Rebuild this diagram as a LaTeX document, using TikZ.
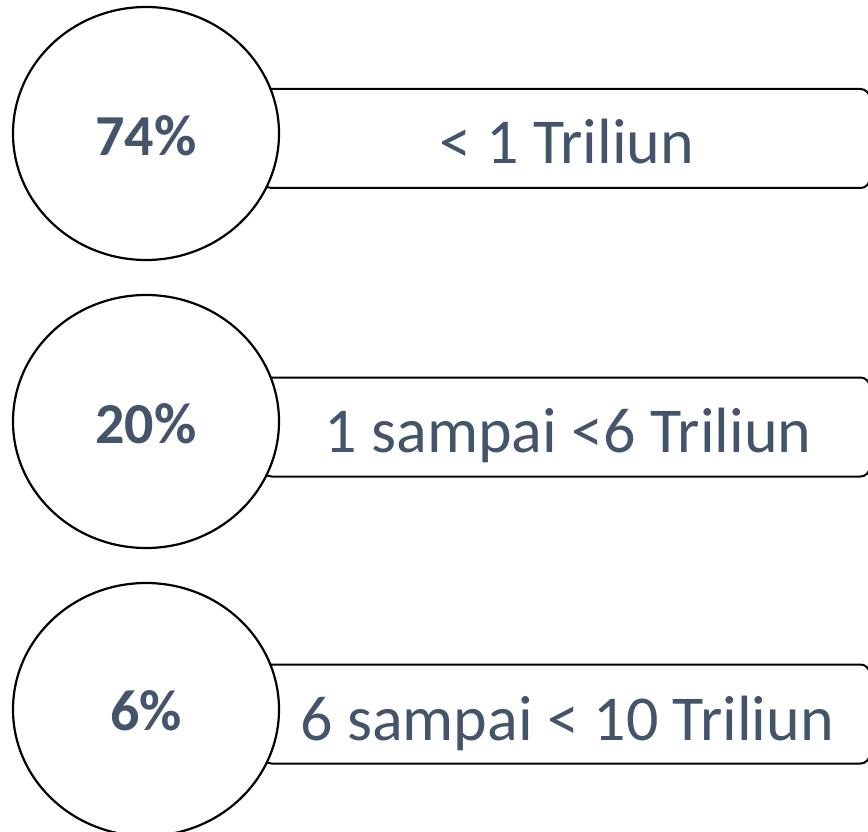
\documentclass[tikz,border=0pt]{standalone}
\usepackage{fontspec}
\setmainfont{Carlito}
\usetikzlibrary{shapes.geometric}
\definecolor{txt}{HTML}{44546A}
\tikzset{
  ring/.style={draw=black, line width=2.2pt, fill=white, ellipse, minimum width=266pt, minimum height=253pt, inner sep=0pt},
  bar/.style={draw=black, line width=2pt, rounded corners=9pt, minimum width=607pt, minimum height=99pt, inner sep=0pt},
  pcttext/.style={text=txt, font=\fontsize{58}{60}\selectfont\bfseries, anchor=base, inner sep=0pt},
  bartext/.style={text=txt, font=\fontsize{64}{66}\selectfont, anchor=base, inner sep=0pt}
}
\begin{document}
\begin{tikzpicture}[x=1pt,y=-1pt]
\useasboundingbox (0,0) rectangle (868,832);
\clip (0,0) rectangle (868,832);
% row 1
\node[bar] (r1) at (566,138.5) {};
\node[ring] (c1) at (146,133.5) {};
\node[pcttext] (p1) at (146,156) {74\%};
\node[bartext] (t1) at (567,164) {< 1 Triliun};
% row 2
\node[bar] (r2) at (566,427) {};
\node[ring] (c2) at (146,421.5) {};
\node[pcttext] (p2) at (146,443) {20\%};
\node[bartext] (t2) at (568,452) {1 sampai <6 Triliun};
% row 3
\node[bar] (r3) at (566,714) {};
\node[ring] (c3) at (146,709.5) {};
\node[pcttext] (p3) at (146,730) {6\%};
\node[bartext] (t3) at (567,740) {6 sampai < 10 Triliun};
\end{tikzpicture}
\end{document}
